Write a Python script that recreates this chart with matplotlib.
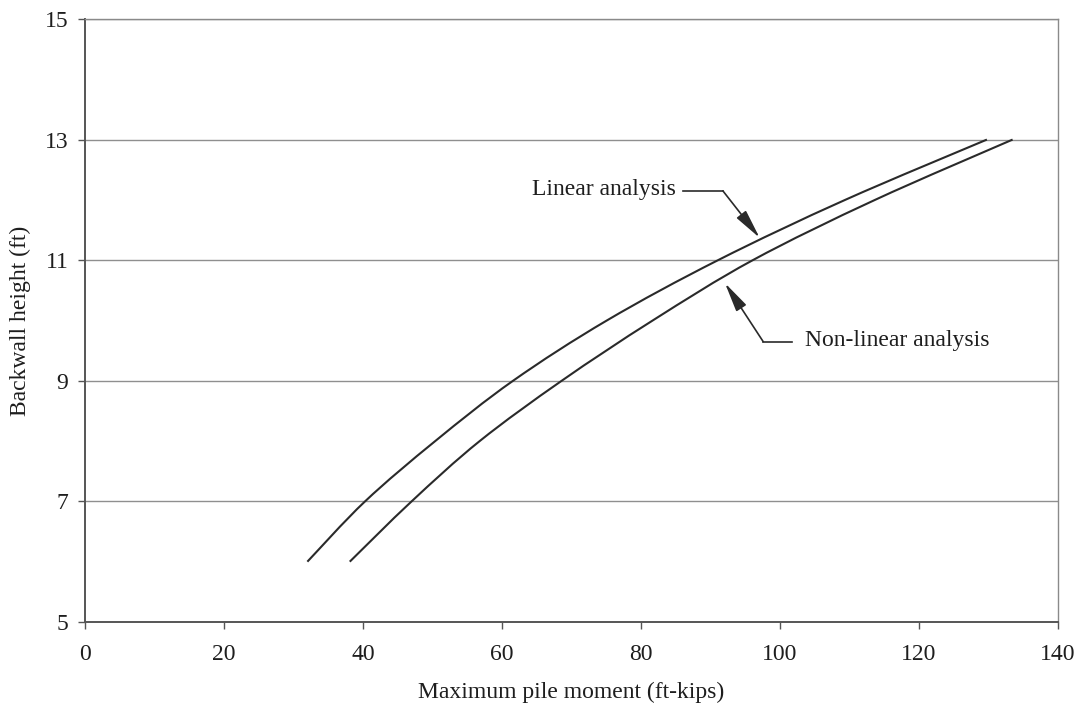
import matplotlib
matplotlib.use("Agg")
import matplotlib.pyplot as plt
from matplotlib.path import Path
from matplotlib.patches import PathPatch

# values
heights = [6, 7, 8, 9, 10, 11, 12, 13]
moment_linear = [32.0, 40.3, 50.4, 61.6, 75.1, 91.1, 109.4, 129.8]
moment_nonlinear = [38.1, 47.0, 56.8, 68.6, 81.7, 96.1, 113.7, 133.5]
x_ticks = [0, 20, 40, 60, 80, 100, 120, 140]
y_ticks = [5, 7, 9, 11, 13, 15]

plt.rcParams["font.family"] = ["Liberation Serif", "DejaVu Serif"]

TEXT = "#1e1e1e"
LINE = "#2a2a2a"


def smooth_path(xs, ys):
    # excel-style smoothed line: catmull-rom through the points, as bezier segments
    pts = list(zip(xs, ys))
    verts = [pts[0]]
    codes = [Path.MOVETO]
    for i in range(len(pts) - 1):
        p0 = pts[max(i - 1, 0)]
        p1 = pts[i]
        p2 = pts[i + 1]
        p3 = pts[min(i + 2, len(pts) - 1)]
        c1 = (p1[0] + (p2[0] - p0[0]) / 6, p1[1] + (p2[1] - p0[1]) / 6)
        c2 = (p2[0] - (p3[0] - p1[0]) / 6, p2[1] - (p3[1] - p1[1]) / 6)
        verts += [c1, c2, p2]
        codes += [Path.CURVE4] * 3
    return Path(verts, codes)


fig = plt.figure(figsize=(10.86, 7.11), dpi=100)
ax = fig.add_axes([0.0783, 0.1252, 0.8957, 0.8481])

for xs in (moment_linear, moment_nonlinear):
    ax.add_patch(PathPatch(smooth_path(xs, heights), facecolor="none",
                           edgecolor=LINE, lw=1.5, capstyle="butt"))

ax.set_xlim(0, 140)
ax.set_ylim(5, 15)
ax.set_xticks(x_ticks)
ax.set_yticks(y_ticks)
ax.yaxis.grid(True, color="#8f8f8f", lw=1.0)
ax.set_axisbelow(True)

for side, spine in ax.spines.items():
    spine.set_color("#555555" if side in ("left", "bottom") else "#8a8a8a")
    spine.set_linewidth(1.4 if side in ("left", "bottom") else 1.0)

ax.tick_params(axis="both", direction="out", length=5, width=1,
               color="#555555", labelsize=17, labelcolor=TEXT)
ax.tick_params(axis="x", pad=11)
ax.tick_params(axis="y", pad=7)

ax.set_xlabel("Maximum pile moment (ft-kips)", fontsize=17, color=TEXT, labelpad=12)
ax.set_ylabel("Backwall height (ft)", fontsize=17, color=TEXT, labelpad=10)

# callouts
arrow_kw = dict(arrowstyle="-|>,head_length=1.0,head_width=0.2",
                color=LINE, lw=1.2, mutation_scale=18, shrinkA=0, shrinkB=0)
ax.annotate("", xy=(97.1, 11.37), xytext=(91.8, 12.15), arrowprops=arrow_kw)
ax.plot([86.0, 91.8], [12.15, 12.15], color=LINE, lw=1.2)
ax.text(85.0, 12.18, "Linear analysis", fontsize=17, color=TEXT,
        ha="right", va="center")

ax.annotate("", xy=(92.1, 10.62), xytext=(97.6, 9.65), arrowprops=arrow_kw)
ax.plot([97.6, 101.7], [9.65, 9.65], color=LINE, lw=1.2)
ax.text(103.6, 9.67, "Non-linear analysis", fontsize=17, color=TEXT,
        ha="left", va="center")

fig.savefig("out.png", dpi=100)
